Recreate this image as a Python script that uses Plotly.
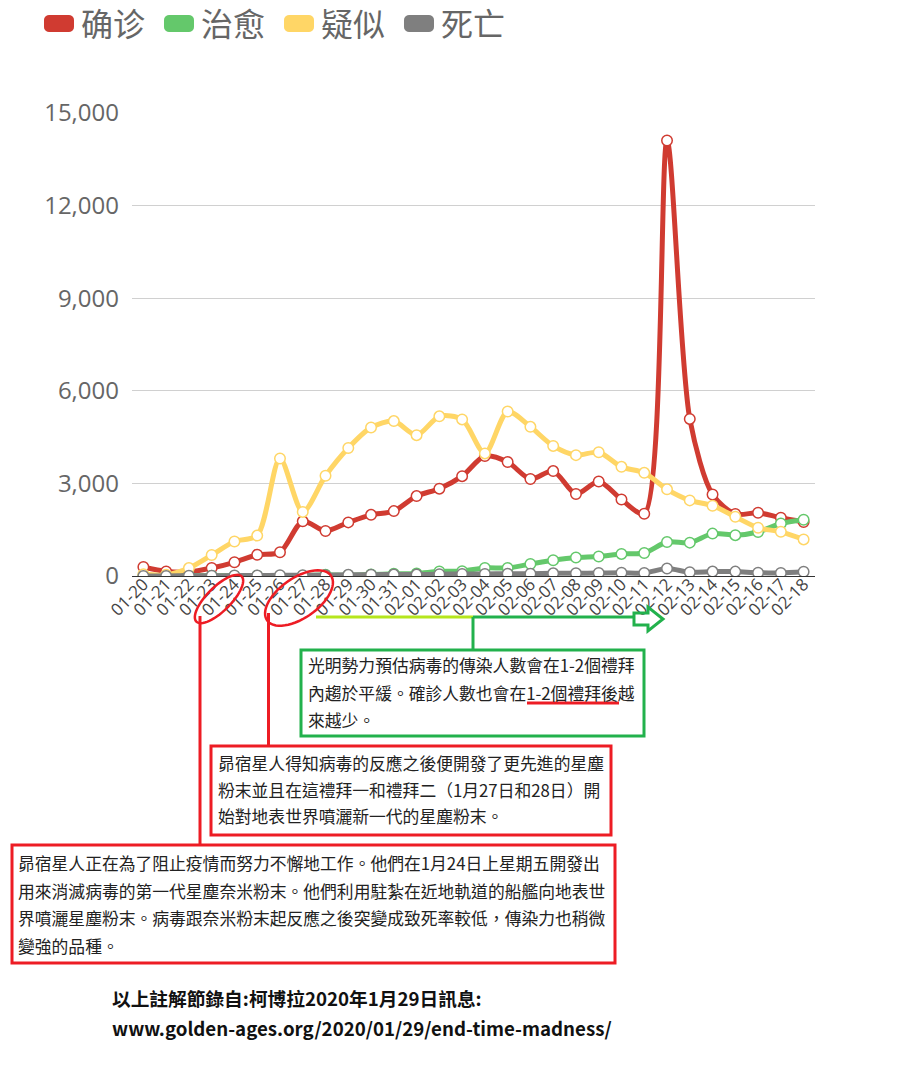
import numpy as np
import plotly.graph_objects as go

# ---------------- data ----------------
dates = ["01-20", "01-21", "01-22", "01-23", "01-24", "01-25", "01-26", "01-27",
         "01-28", "01-29", "01-30", "01-31", "02-01", "02-02", "02-03", "02-04",
         "02-05", "02-06", "02-07", "02-08", "02-09", "02-10", "02-11", "02-12",
         "02-13", "02-14", "02-15", "02-16", "02-17", "02-18"]
confirmed = [291, 149, 131, 259, 444, 688, 769, 1771, 1459, 1737, 1982, 2102, 2590, 2829,
             3235, 3887, 3694, 3143, 3399, 2656, 3062, 2478, 2015, 14108, 5090, 2641,
             2009, 2048, 1886, 1749]
recovered = [0, 3, 6, 6, 3, 11, 2, 9, 43, 21, 47, 72, 85, 147, 157, 262, 261, 387, 510,
             600, 632, 716, 744, 1100, 1081, 1373, 1323, 1425, 1701, 1824]
suspected = [54, 37, 257, 680, 1118, 1309, 3806, 2077, 3248, 4148, 4812, 5019, 4562, 5173,
             5072, 3971, 5328, 4833, 4214, 3916, 4008, 3536, 3342, 2807, 2450, 2277, 1918,
             1563, 1432, 1185]
deaths = [3, 3, 8, 8, 16, 15, 24, 26, 26, 38, 43, 46, 45, 57, 64, 65, 73, 73, 86, 89, 97,
          108, 97, 242, 121, 143, 142, 105, 98, 136]

series_names = ["确诊", "治愈", "疑似", "死亡"]
y_ticks = [0, 3000, 6000, 9000, 12000, 15000]

green_box_lines = ["光明勢力預估病毒的傳染人數會在1-2個禮拜",
                   "內趨於平緩。確診人數也會在1-2個禮拜後越",
                   "來越少。"]
red_box1_lines = ["昴宿星人得知病毒的反應之後便開發了更先進的星塵",
                  "粉末並且在這禮拜一和禮拜二（1月27日和28日）開",
                  "始對地表世界噴灑新一代的星塵粉末。"]
red_box2_lines = ["昴宿星人正在為了阻止疫情而努力不懈地工作。他們在1月24日上星期五開發出",
                  "用來消滅病毒的第一代星塵奈米粉末。他們利用駐紮在近地軌道的船艦向地表世",
                  "界噴灑星塵粉末。病毒跟奈米粉末起反應之後突變成致死率較低，傳染力也稍微",
                  "變強的品種。"]
source_lines = ["以上註解節錄自:柯博拉2020年1月29日訊息:",
                "www.golden-ages.org/2020/01/29/end-time-madness/"]

# ---------------- style ----------------
colors = ["#d03b31", "#64c86b", "#ffd666", "#7f7f7f"]
RED = "#ed1c24"
GREEN = "#22b14c"
LIME = "#b5e61d"
CJK = "Noto Sans CJK TC"

W, H = 910, 1069
L, R, T, B = 132, 815, 113, 576   # plot area in page pixels


def px(x):
    return (x - L) / (R - L)


def py(y):
    return (B - y) / (B - T)


fig = go.Figure()
for name, vals, col in zip(series_names, [confirmed, recovered, suspected, deaths], colors):
    fig.add_trace(go.Scatter(
        x=dates, y=vals, name=name, mode="lines+markers",
        line=dict(color=col, width=5, shape="spline", smoothing=0.8),
        marker=dict(size=10.5, color="white", line=dict(color=col, width=1.5)),
        showlegend=False, hoverinfo="x+y+name"))

shapes = []
annotations = []


def line(x0, y0, x1, y1, color, width=3):
    shapes.append(dict(type="line", xref="paper", yref="paper",
                       x0=px(x0), y0=py(y0), x1=px(x1), y1=py(y1),
                       line=dict(color=color, width=width), layer="above"))


def rect(x0, y0, x1, y1, color, width=3):
    shapes.append(dict(type="rect", xref="paper", yref="paper",
                       x0=px(x0), y0=py(y0), x1=px(x1), y1=py(y1),
                       line=dict(color=color, width=width), layer="above"))


def poly_path(pts, close=True):
    s = "M " + " L ".join(f"{px(a):.5f},{py(b):.5f}" for a, b in pts)
    return s + (" Z" if close else "")


def rrect(x0, y0, x1, y1, r, color):
    pts = []
    for cx, cy, a0 in [(x1 - r, y0 + r, -90), (x1 - r, y1 - r, 0), (x0 + r, y1 - r, 90), (x0 + r, y0 + r, 180)]:
        for a in np.linspace(a0, a0 + 90, 6):
            t = np.radians(a)
            pts.append((cx + r * np.cos(t), cy + r * np.sin(t)))
    shapes.append(dict(type="path", xref="paper", yref="paper", path=poly_path(pts),
                       fillcolor=color, line=dict(width=0), layer="above"))


def ellipse(cx, cy, a, b, deg, color, width=2.5):
    th = np.radians(deg)
    pts = []
    for t in np.linspace(0, 2 * np.pi, 60):
        ex, ey = a * np.cos(t), b * np.sin(t)
        pts.append((cx + ex * np.cos(th) - ey * np.sin(th), cy - (ex * np.sin(th) + ey * np.cos(th))))
    shapes.append(dict(type="path", xref="paper", yref="paper", path=poly_path(pts),
                       line=dict(color=color, width=width), layer="above"))


def text(x, y, s, size=16.8, color="#222", family=CJK, anchor="left", pad=1):
    annotations.append(dict(x=px(x), y=py(y), xref="paper", yref="paper", text=s,
                            showarrow=False, xanchor=anchor, yanchor="middle",
                            borderpad=pad,
                            font=dict(size=size, color=color, family=family)))


# legend (custom rounded swatches)
leg_x = [44, 164, 284, 404]
for lx, name, col in zip(leg_x, series_names, colors):
    rrect(lx, 15, lx + 30, 32, 5, col)
    text(lx + 36, 22.5, name, size=32, color="#666", family="Noto Sans CJK SC", pad=0)

# hand-drawn marks
ellipse(219, 599, 32, 12, 45, RED)
ellipse(299, 598, 39, 20, 35, RED)
line(200, 616, 200, 845, RED)
line(268.5, 613, 268.5, 746, RED)

line(316, 617, 473, 617, LIME)
line(473, 617, 634, 617, GREEN)
line(473, 617, 473, 650, GREEN)
arrow = [(634, 613), (648, 613), (648, 607), (663, 619), (648, 631), (648, 625), (634, 625)]
shapes.append(dict(type="path", xref="paper", yref="paper", path=poly_path(arrow),
                   line=dict(color=GREEN, width=3), layer="above"))

# boxes
rect(301, 650, 644, 736, GREEN)
rect(211, 746, 611, 835, RED)
rect(12, 845, 615, 963, RED)
line(527, 703, 619, 703, RED)

for i, s in enumerate(green_box_lines):
    text(306, 665 + 27.5 * i, s, size=16.8)
for i, s in enumerate(red_box1_lines):
    text(216, 763 + 26.5 * i, s)
for i, s in enumerate(red_box2_lines):
    text(16, 863 + 27.5 * i, s)

text(110, 997, "<b>" + source_lines[0] + "</b>", size=18.7, color="#111")
text(110, 1027, "<b>" + source_lines[1] + "</b>", size=18.7, color="#111")

fig.update_layout(
    width=W, height=H,
    margin=dict(l=L, r=W - R, t=T, b=H - B, pad=0),
    plot_bgcolor="white", paper_bgcolor="white",
    shapes=shapes, annotations=annotations,
    xaxis=dict(type="category", range=[-0.5, len(dates) - 0.5], showgrid=False,
               showline=False, zeroline=False, ticks="", tickangle=-45,
               ticklabelstandoff=-6,
               tickfont=dict(size=17, color="#444", family="Open Sans")),
    yaxis=dict(range=[0, 15000], tickvals=y_ticks, tickformat=",d",
               showgrid=True, gridcolor="#d0d0d0", gridwidth=1,
               zeroline=True, zerolinecolor="#333", zerolinewidth=1,
               showline=False, ticks="", ticklabelstandoff=12,
               tickfont=dict(size=24, color="#666", family="Open Sans")),
)

# place the figure at the page origin (no default body margin), no mode bar
fig.write_html("out.html", config={"displayModeBar": False},
               post_script="document.body.style.margin='0px';")
